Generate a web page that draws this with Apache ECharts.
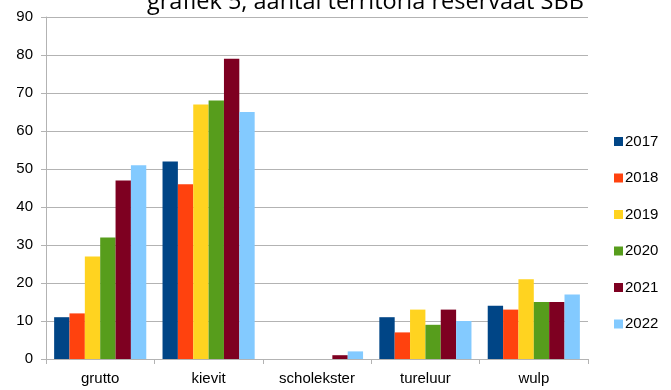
<!DOCTYPE html>
<html>
<head>
<meta charset="utf-8">
<script src="https://cdn.jsdelivr.net/npm/echarts@6/dist/echarts.min.js"></script>
<style>
  html, body { margin: 0; padding: 0; background: #fff; }
  #chart { width: 671px; height: 390px; }
</style>
</head>
<body>
<div id="chart"></div>
<script>
// soorten en jaren
const soorten = ['grutto', 'kievit', 'scholekster', 'tureluur', 'wulp'];
const jaren = ['2017', '2018', '2019', '2020', '2021', '2022'];
const kleuren = ['#004586', '#ff420e', '#ffd320', '#579d1c', '#7e0021', '#83caff'];

// aantal territoria per jaar (volgorde soorten)
const j2017 = [11, 52, 0, 11, 14];
const j2018 = [12, 46, 0, 7, 13];
const j2019 = [27, 67, 0, 13, 21];
const j2020 = [32, 68, 0, 9, 15];
const j2021 = [47, 79, 1, 13, 15];
const j2022 = [51, 65, 2, 10, 17];
const reeksen = [j2017, j2018, j2019, j2020, j2021, j2022];

const option = {
    animation: false,
    color: kleuren,
    graphic: [
        {
            type: 'text',
            left: 147,
            top: -10,
            style: {
                text: 'grafiek 5, aantal territoria reservaat SBB',
                font: '23.5px "Open Sans"',
                fill: '#000'
            }
        }
    ],
    legend: {
        orient: 'vertical',
        left: 609,
        top: 129,
        itemWidth: 9,
        itemHeight: 9,
        itemGap: 21.5,
        icon: 'rect',
        textStyle: {
            color: '#000',
            fontSize: 15,
            fontFamily: 'Liberation Sans',
            padding: [0, 0, 0, -3]
        },
        data: jaren
    },
    grid: {
        left: 46,
        right: 83,
        top: 17,
        bottom: 31
    },
    xAxis: {
        type: 'category',
        data: soorten,
        axisLine: { lineStyle: { color: '#b3b3b3' } },
        axisTick: { show: true, length: 5, lineStyle: { color: '#b3b3b3' } },
        axisLabel: {
            color: '#000',
            fontSize: 15,
            fontFamily: 'Liberation Sans',
            margin: 12
        }
    },
    yAxis: {
        type: 'value',
        min: 0,
        max: 90,
        interval: 10,
        axisLine: { show: true, lineStyle: { color: '#b3b3b3' } },
        axisTick: { show: true, length: 5, lineStyle: { color: '#b3b3b3' } },
        splitLine: { lineStyle: { color: '#b3b3b3' } },
        axisLabel: {
            color: '#000',
            fontSize: 15,
            fontFamily: 'Liberation Sans',
            margin: 13
        }
    },
    series: []
};

jaren.forEach((jaar, i) => {
    option.series.push({
        name: jaar,
        type: 'bar',
        data: reeksen[i],
        barGap: '0%',
        barCategoryGap: '15%'
    });
});

const chart = echarts.init(document.getElementById('chart'));
chart.setOption(option);
</script>
</body>
</html>
